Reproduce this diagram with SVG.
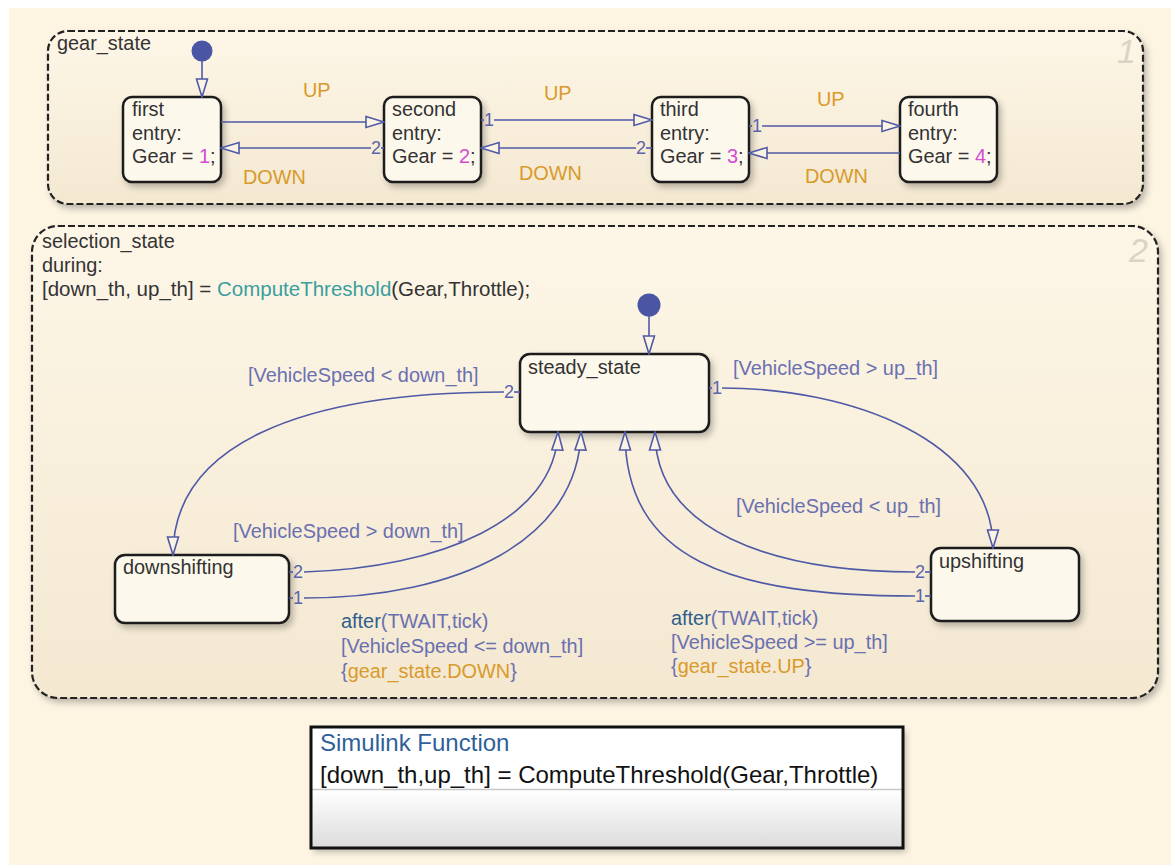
<svg xmlns="http://www.w3.org/2000/svg" width="1171" height="865" viewBox="0 0 1171 865">
<defs>
<style>
.t{font-family:"Liberation Sans",Arial,sans-serif;font-size:19.9px;fill:#333}
.lb{fill:#6a70b0}
.kw{fill:#2f5f8c}
.or{fill:#d99a2b}
.mg{fill:#d24bd2}
.tl{fill:#3a9e9e}
.num{font-family:"Liberation Sans",Arial,sans-serif;font-size:18px;fill:#5a64aa}
.big{font-family:"Liberation Sans",Arial,sans-serif;font-size:34px;font-style:italic;fill:#d9d3c6}
.super{stroke:#222;stroke-width:2.2;stroke-dasharray:7 3}
.st{fill:#fdf8ec;stroke:#1a1a1a;stroke-width:2.5}
.tr{fill:none;stroke:#4f5aa6;stroke-width:1.6}
.tick{stroke:#4f5aa6;stroke-width:1.6}
.sf{font-family:"Liberation Sans",Arial,sans-serif;font-size:24px}
</style>
<linearGradient id="sg" x1="0" y1="0" x2="0" y2="1"><stop offset="0" stop-color="#fdf6e7"/><stop offset="1" stop-color="#f4e8d1"/></linearGradient>
<linearGradient id="fg" x1="0" y1="0" x2="0" y2="1"><stop offset="0" stop-color="#ffffff"/><stop offset="1" stop-color="#dcdcdc"/></linearGradient>
<filter id="sh" x="-10%" y="-10%" width="130%" height="140%"><feDropShadow dx="3" dy="4" stdDeviation="3" flood-color="#000" flood-opacity="0.25"/></filter>
<marker id="ah" markerWidth="20" markerHeight="14" refX="19" refY="7" orient="auto" markerUnits="userSpaceOnUse"><path d="M1,1.5 L19,7 L1,12.5 Z" fill="#fbf3e3" stroke="#4f5aa6" stroke-width="1.6"/></marker>
</defs>
<rect x="0" y="0" width="1171" height="865" fill="#ffffff"/>
<rect x="9" y="8" width="1162" height="857" fill="#fdf4e2"/>

<g id="gear_state">
<rect class="super" x="48" y="31" width="1095" height="173" rx="20" fill="url(#sg)" filter="url(#sh)"/>
<text class="t" x="57" y="50">gear_state</text>
<text class="big" x="1117" y="63">1</text>
</g>

<g id="selection_state">
<rect class="super" x="32" y="226" width="1126" height="472" rx="26" fill="url(#sg)" filter="url(#sh)"/>
<text class="t" x="42" y="248">selection_state</text>
<text class="t" x="42" y="272">during:</text>
<text class="t" x="42" y="296" style="font-size:20.5px">[down_th, up_th] = <tspan class="tl">ComputeThreshold</tspan>(Gear,Throttle);</text>
<text class="big" x="1129" y="262">2</text>
</g>

<g id="first">
<rect class="st" x="123" y="97" width="98" height="85" rx="9" filter="url(#sh)"/>
<text class="t" x="132" y="116">first</text>
<text class="t" x="132" y="140">entry:</text>
<text class="t" x="132" y="163">Gear = <tspan class="mg">1</tspan>;</text>
</g>
<g id="second">
<rect class="st" x="384" y="97" width="97" height="85" rx="9" filter="url(#sh)"/>
<text class="t" x="392" y="116">second</text>
<text class="t" x="392" y="140">entry:</text>
<text class="t" x="392" y="163">Gear = <tspan class="mg">2</tspan>;</text>
</g>
<g id="third">
<rect class="st" x="652" y="97" width="97" height="85" rx="9" filter="url(#sh)"/>
<text class="t" x="660" y="116">third</text>
<text class="t" x="660" y="140">entry:</text>
<text class="t" x="660" y="163">Gear = <tspan class="mg">3</tspan>;</text>
</g>
<g id="fourth">
<rect class="st" x="900" y="97" width="97" height="85" rx="9" filter="url(#sh)"/>
<text class="t" x="908" y="116">fourth</text>
<text class="t" x="908" y="140">entry:</text>
<text class="t" x="908" y="163">Gear = <tspan class="mg">4</tspan>;</text>
</g>

<g id="steady_state">
<rect class="st" x="520" y="354" width="189" height="78" rx="10" filter="url(#sh)"/>
<text class="t" x="528" y="374">steady_state</text>
</g>
<g id="downshifting">
<rect class="st" x="115" y="555" width="174" height="68" rx="10" filter="url(#sh)"/>
<text class="t" x="123" y="574">downshifting</text>
</g>
<g id="upshifting">
<rect class="st" x="931" y="548" width="148" height="73" rx="10" filter="url(#sh)"/>
<text class="t" x="939" y="568">upshifting</text>
</g>

<g id="simulink_function">
<rect x="311" y="727" width="592" height="121" fill="#ffffff" filter="url(#sh)"/>
<rect x="312" y="790" width="590" height="57" fill="url(#fg)"/>
<line x1="312" y1="789.5" x2="902" y2="789.5" stroke="#c8c8c8" stroke-width="1.5"/>
<rect x="311" y="727" width="592" height="121" fill="none" stroke="#111" stroke-width="3"/>
<text class="sf" x="320" y="751" fill="#2f5f9a">Simulink Function</text>
<text class="sf" x="320" y="783" fill="#111">[down_th,up_th] = ComputeThreshold(Gear,Throttle)</text>
</g>

<g id="connectors">
<circle cx="202" cy="51" r="10.5" fill="#4a55a3"/>
<line class="tr" x1="202" y1="61" x2="202" y2="97" marker-end="url(#ah)"/>
<circle cx="649" cy="305" r="11.5" fill="#4a55a3"/>
<line class="tr" x1="649" y1="316" x2="649" y2="354" marker-end="url(#ah)"/>

<line class="tr" x1="221" y1="122" x2="384" y2="122" marker-end="url(#ah)"/>
<line class="tr" x1="371" y1="148" x2="221" y2="148" marker-end="url(#ah)"/>
<line class="tick" x1="381" y1="148" x2="384" y2="148"/>
<text class="num" x="371" y="154">2</text>

<line class="tick" x1="481" y1="120" x2="484" y2="120"/>
<text class="num" x="484" y="126">1</text>
<line class="tr" x1="494" y1="120" x2="652" y2="120" marker-end="url(#ah)"/>
<line class="tr" x1="636" y1="148" x2="481" y2="148" marker-end="url(#ah)"/>
<text class="num" x="636" y="154">2</text>
<line class="tick" x1="646" y1="148" x2="652" y2="148"/>

<line class="tick" x1="749" y1="126" x2="752" y2="126"/>
<text class="num" x="752" y="132">1</text>
<line class="tr" x1="762" y1="126" x2="900" y2="126" marker-end="url(#ah)"/>
<line class="tr" x1="900" y1="153" x2="749" y2="153" marker-end="url(#ah)"/>

<text class="t or" x="303" y="97">UP</text>
<text class="t or" x="243" y="184">DOWN</text>
<text class="t or" x="544" y="100">UP</text>
<text class="t or" x="519" y="180">DOWN</text>
<text class="t or" x="817" y="106">UP</text>
<text class="t or" x="805" y="183">DOWN</text>

<path class="tr" d="M504,392 C300,392 173,445 173,555" marker-end="url(#ah)"/>
<text class="num" x="504" y="398">2</text>
<line class="tick" x1="514" y1="392" x2="520" y2="392"/>
<text class="t lb" x="248" y="382">[VehicleSpeed &lt; down_th]</text>

<line class="tick" x1="709" y1="388" x2="712" y2="388"/>
<text class="num" x="712" y="394">1</text>
<path class="tr" d="M722,388 C850,388 993,440 993,548" marker-end="url(#ah)"/>
<text class="t lb" x="733" y="375">[VehicleSpeed &gt; up_th]</text>

<line class="tick" x1="289" y1="572" x2="293" y2="572"/>
<text class="num" x="293" y="578">2</text>
<path class="tr" d="M304,572 C440,568 555,520 558,432" marker-end="url(#ah)"/>
<text class="t lb" x="233" y="538">[VehicleSpeed &gt; down_th]</text>

<line class="tick" x1="289" y1="598" x2="293" y2="598"/>
<text class="num" x="293" y="604">1</text>
<path class="tr" d="M304,598 C460,598 578,540 581,432" marker-end="url(#ah)"/>
<text class="t" x="341" y="628"><tspan class="kw">after</tspan><tspan class="lb">(TWAIT,tick)</tspan></text>
<text class="t lb" x="341" y="653">[VehicleSpeed &lt;= down_th]</text>
<text class="t" x="341" y="678"><tspan class="lb">{</tspan><tspan class="or">gear_state.DOWN</tspan><tspan class="lb">}</tspan></text>

<path class="tr" d="M915,572 C770,572 655,530 655,432" marker-end="url(#ah)"/>
<text class="num" x="915" y="578">2</text>
<line class="tick" x1="925" y1="572" x2="931" y2="572"/>
<text class="t lb" x="736" y="513">[VehicleSpeed &lt; up_th]</text>

<path class="tr" d="M915,596 C730,596 625,560 625,432" marker-end="url(#ah)"/>
<text class="num" x="915" y="602">1</text>
<line class="tick" x1="925" y1="596" x2="931" y2="596"/>
<text class="t" x="671" y="625"><tspan class="kw">after</tspan><tspan class="lb">(TWAIT,tick)</tspan></text>
<text class="t lb" x="671" y="649">[VehicleSpeed &gt;= up_th]</text>
<text class="t" x="671" y="673"><tspan class="lb">{</tspan><tspan class="or">gear_state.UP</tspan><tspan class="lb">}</tspan></text>
</g>
</svg>
